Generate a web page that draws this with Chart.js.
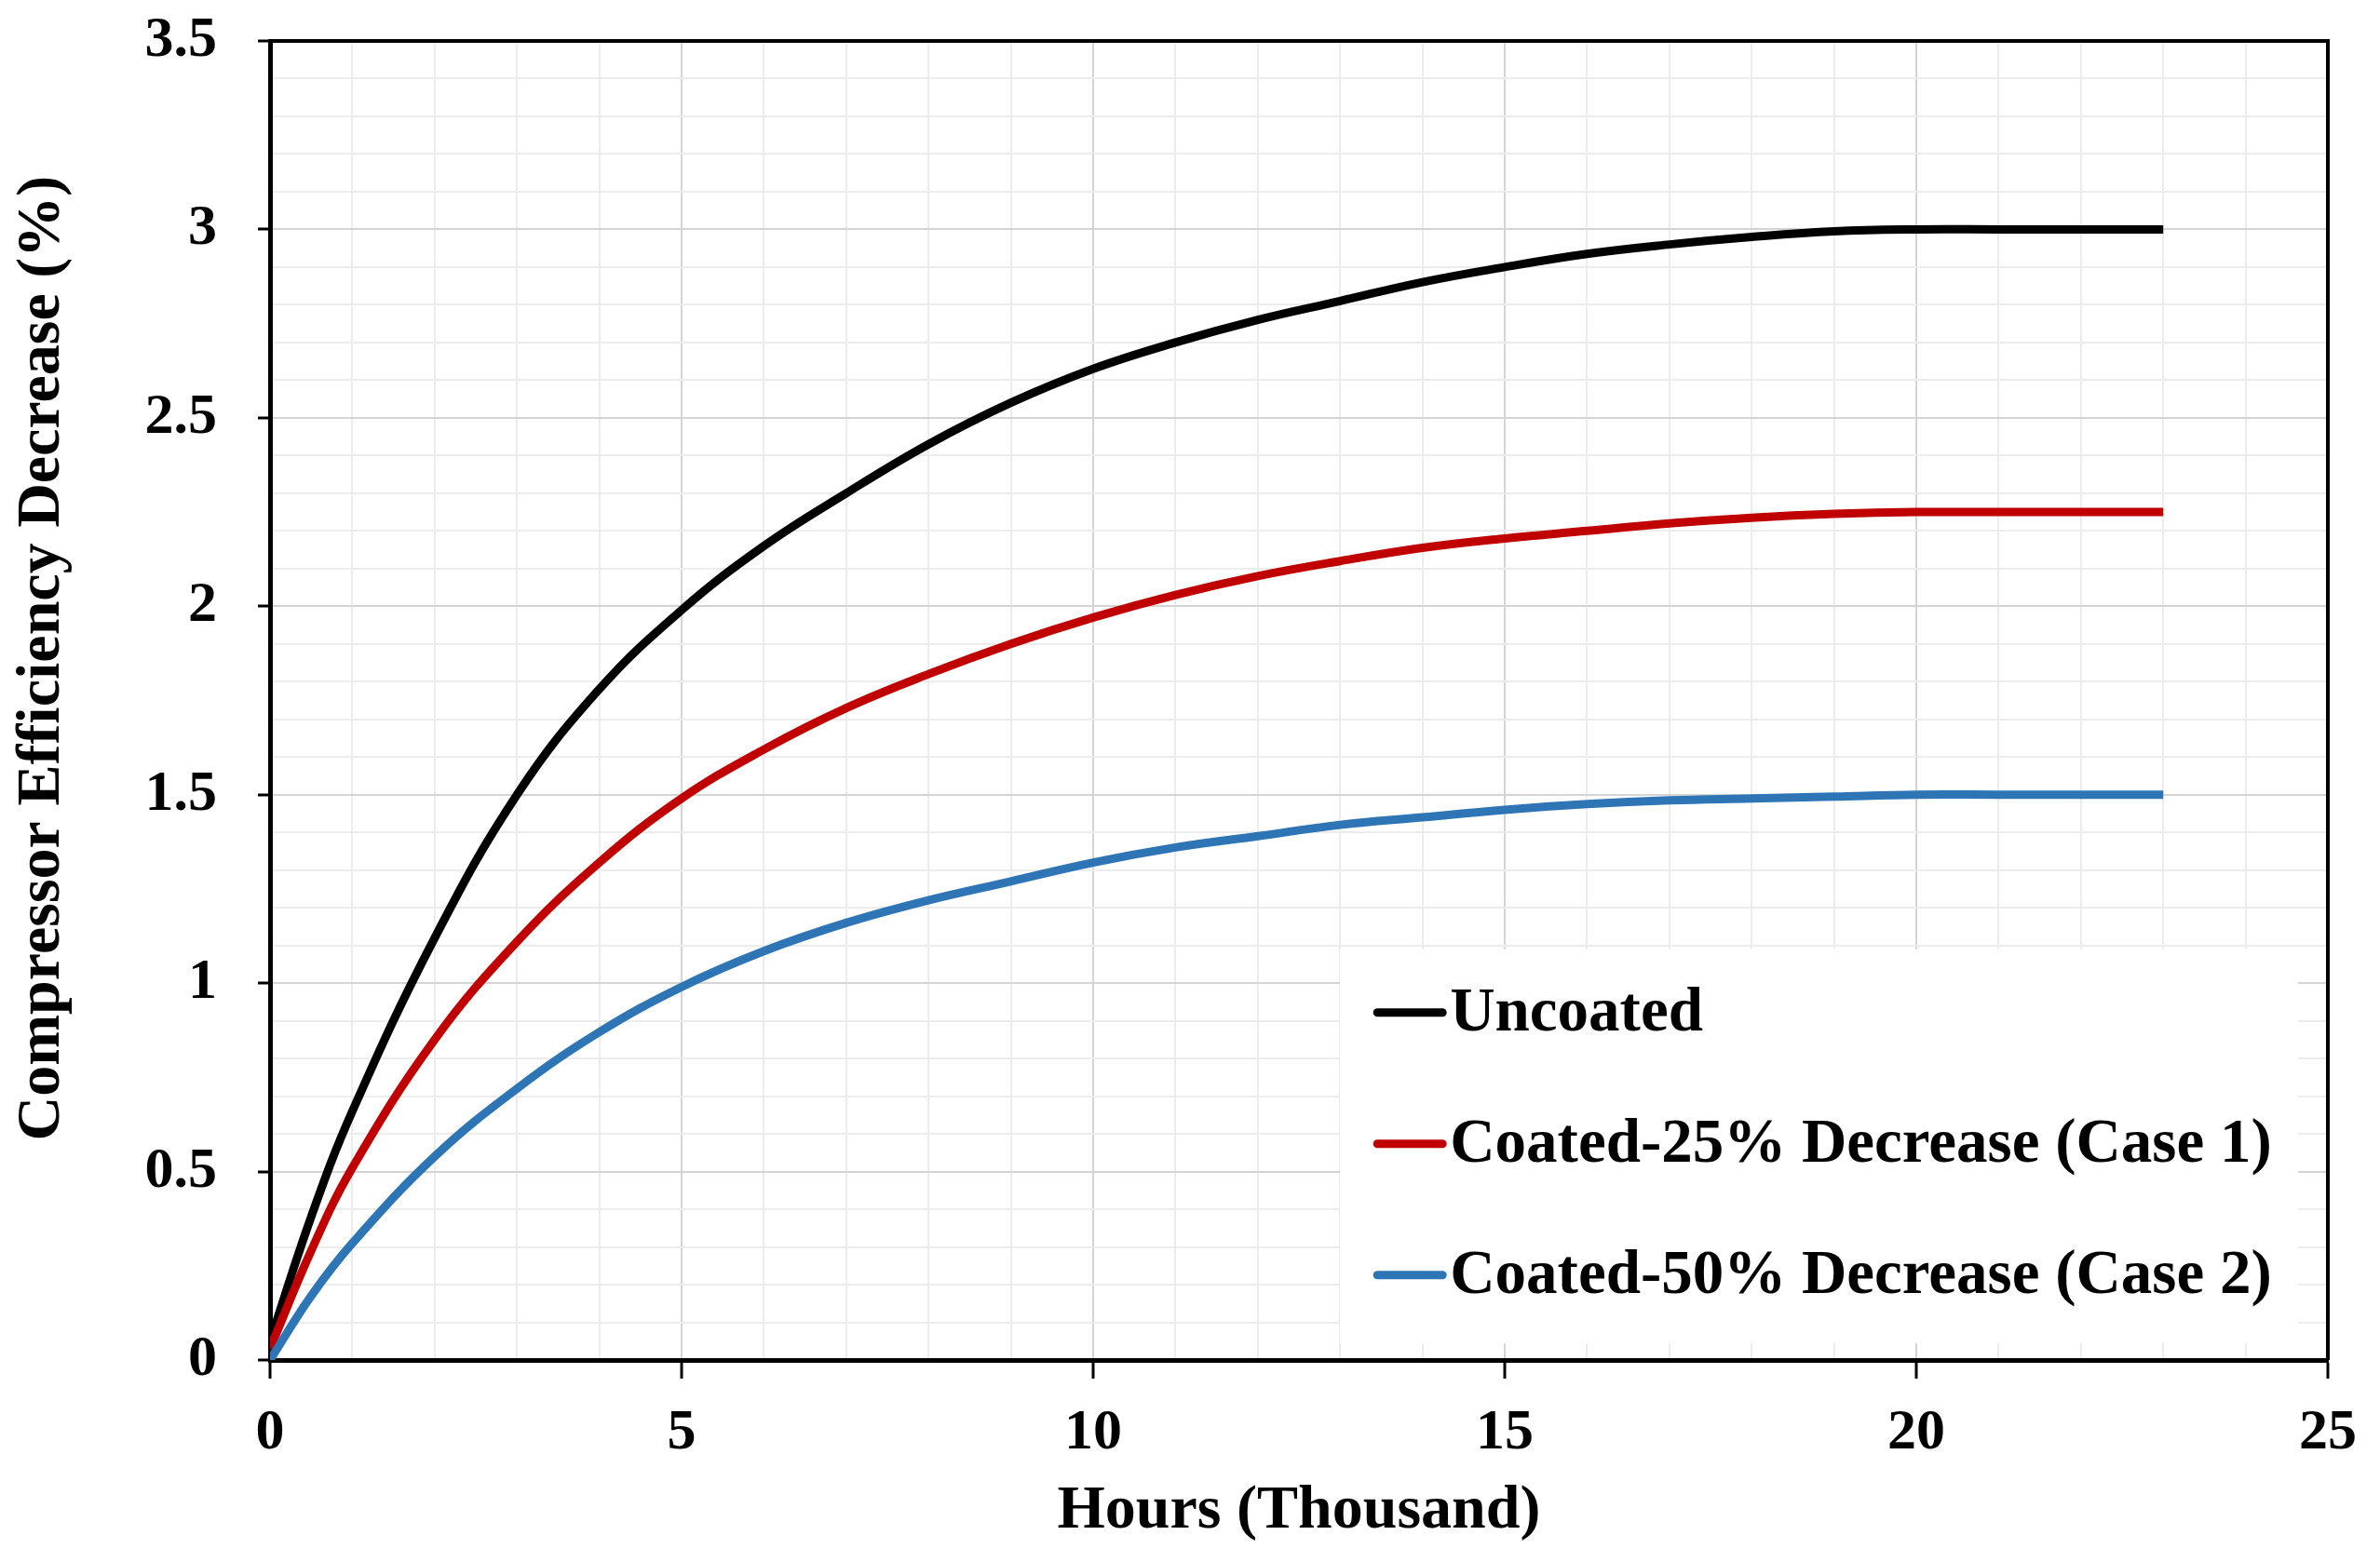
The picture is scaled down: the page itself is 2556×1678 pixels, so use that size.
<!DOCTYPE html>
<html>
<head>
<meta charset="utf-8">
<title>Compressor Efficiency Decrease</title>
<script src="https://cdn.jsdelivr.net/npm/chart.js@4.4.1/dist/chart.umd.min.js"></script>
<style>
    html, body { margin: 0; padding: 0; background: #fff; }
    #wrap { width: 2556px; height: 1678px; }
</style>
</head>
<body>
<div id="wrap"><canvas id="effChart"></canvas></div>
<script>
// Values: hours (thousand) and efficiency decrease (%)
const hours = [0, 0.5, 1, 2, 3, 4, 5, 6, 7, 8, 9, 10, 11, 12, 13, 14, 15, 16, 17, 18, 19, 20, 21, 22, 23];
const uncoated = [0.05, 0.38, 0.66, 1.12, 1.50, 1.78, 1.99, 2.16, 2.30, 2.43, 2.54, 2.63, 2.70, 2.76, 2.81, 2.86, 2.90, 2.935, 2.96, 2.98, 2.995, 3.00, 3.00, 3.00, 3.00];
const coatedCase1 = [0.03, 0.29, 0.51, 0.85, 1.11, 1.32, 1.49, 1.62, 1.73, 1.82, 1.90, 1.97, 2.03, 2.08, 2.12, 2.155, 2.18, 2.20, 2.22, 2.235, 2.245, 2.25, 2.25, 2.25, 2.25];
const coatedCase2 = [0.00, 0.17, 0.31, 0.54, 0.72, 0.87, 0.99, 1.085, 1.16, 1.22, 1.27, 1.32, 1.36, 1.39, 1.42, 1.44, 1.46, 1.475, 1.485, 1.49, 1.495, 1.50, 1.50, 1.50, 1.50];

const seriesLabels = ['Uncoated', 'Coated-25% Decrease (Case 1)', 'Coated-50% Decrease (Case 2)'];
const seriesColors = ['#000000', '#c00000', '#2e75b6'];

// Labelled (major) ticks; minor grid every 1 on x and 0.1 on y
const xTicks = [0, 5, 10, 15, 20, 25];
const yTicks = [0, 0.5, 1, 1.5, 2, 2.5, 3, 3.5];

const yTitle = 'Compressor Efficiency Decrease (%)';
const xTitle = 'Hours (Thousand)';

const FONT = "'Liberation Serif', 'Times New Roman', serif";
Chart.defaults.font.family = FONT;
Chart.defaults.font.weight = 'bold';
Chart.defaults.color = '#000';

function isMajor(list, v) {
    return list.some(t => Math.abs(t - v) < 1e-6);
}

function points(values) {
    return hours.map((h, i) => ({ x: h, y: values[i] }));
}

// Legend box inside the plot area, frame lines and the y title
const insideLegend = {
    id: 'insideLegend',
    afterDatasetsDraw(chart) {
        const { ctx, chartArea: a, scales: { x, y } } = chart;
        const left = x.getPixelForValue(13);
        const right = a.right - 32;
        const top = y.getPixelForValue(1.09);
        const bottom = a.bottom - 18;

        ctx.save();
        ctx.fillStyle = '#ffffff';
        ctx.fillRect(left, top, right - left, bottom - top);

        ctx.font = 'bold 67px ' + FONT;
        ctx.textBaseline = 'middle';
        ctx.textAlign = 'left';
        seriesLabels.forEach((label, i) => {
            const rowY = top + 68 + i * 141;
            ctx.strokeStyle = seriesColors[i];
            ctx.lineWidth = 9;
            ctx.lineCap = 'round';
            ctx.beginPath();
            ctx.moveTo(left + 40, rowY);
            ctx.lineTo(left + 110, rowY);
            ctx.stroke();
            ctx.fillStyle = '#000';
            ctx.fillText(label, left + 118, rowY + 2);
        });
        ctx.restore();
    },
    afterDraw(chart) {
        const { ctx, chartArea: a } = chart;
        ctx.save();
        ctx.strokeStyle = '#000';
        ctx.lineWidth = 4;
        ctx.beginPath();
        ctx.moveTo(a.left, a.top);
        ctx.lineTo(a.right, a.top);
        ctx.lineTo(a.right, a.bottom);
        ctx.stroke();

        // y axis title, a little above the plot's middle as in the source
        ctx.translate(46, a.top + (a.bottom - a.top) * 0.468);
        ctx.rotate(-Math.PI / 2);
        ctx.font = 'bold 66px ' + FONT;
        ctx.fillStyle = '#000';
        ctx.textAlign = 'center';
        ctx.textBaseline = 'middle';
        ctx.fillText(yTitle, 0, 0);
        ctx.restore();
    }
};

const datasets = [uncoated, coatedCase1, coatedCase2].map((vals, i) => ({
    label: seriesLabels[i],
    data: points(vals),
    borderColor: seriesColors[i],
    backgroundColor: seriesColors[i],
    borderWidth: 9,
    pointRadius: 0,
    tension: 0.4,
    fill: false,
    order: 2 - i
}));

const ctx = document.getElementById('effChart').getContext('2d');
new Chart(ctx, {
    type: 'line',
    data: { datasets: datasets },
    plugins: [insideLegend],
    options: {
        responsive: true,
        maintainAspectRatio: false,
        devicePixelRatio: 1,
        animation: false,
        layout: { padding: { top: 44, right: 56, left: 0, bottom: 0 } },
        plugins: {
            legend: { display: false },
            tooltip: { enabled: false }
        },
        scales: {
            x: {
                type: 'linear',
                min: 0,
                max: 25,
                ticks: {
                    stepSize: 1,
                    autoSkip: false,
                    maxRotation: 0,
                    padding: 22,
                    color: '#000',
                    font: { size: 62, weight: 'bold' },
                    callback: v => isMajor(xTicks, v) ? String(v) : ''
                },
                grid: {
                    color: c => (c.tick && isMajor(xTicks, c.tick.value)) ? '#d4d4d4' : '#ececec',
                    lineWidth: 2,
                    tickLength: 20,
                    tickWidth: 3,
                    tickColor: c => (c.tick && isMajor(xTicks, c.tick.value)) ? '#000' : 'rgba(0,0,0,0)'
                },
                border: { color: '#000', width: 5 },
                title: {
                    display: true,
                    text: xTitle,
                    color: '#000',
                    font: { size: 66, weight: 'bold' },
                    padding: { top: 0, bottom: 14 }
                },
                afterFit(scale) {
                    scale.height = 217;
                    scale.paddingLeft = 0;
                    scale.paddingRight = 0;
                }
            },
            y: {
                type: 'linear',
                min: 0,
                max: 3.5,
                ticks: {
                    stepSize: 0.1,
                    autoSkip: false,
                    padding: 44,
                    color: '#000',
                    font: { size: 62, weight: 'bold' },
                    callback: v => isMajor(yTicks, v) ? String(Math.round(v * 10) / 10) : ''
                },
                grid: {
                    color: c => (c.tick && isMajor(yTicks, c.tick.value)) ? '#d4d4d4' : '#ececec',
                    lineWidth: 2,
                    tickLength: 13,
                    tickWidth: 3,
                    tickColor: c => (c.tick && isMajor(yTicks, c.tick.value)) ? '#000' : 'rgba(0,0,0,0)'
                },
                border: { color: '#000', width: 5 },
                title: { display: false },
                afterFit(scale) {
                    scale.width = 290;
                    scale.paddingTop = 0;
                    scale.paddingBottom = 0;
                }
            }
        }
    }
});
</script>
</body>
</html>
